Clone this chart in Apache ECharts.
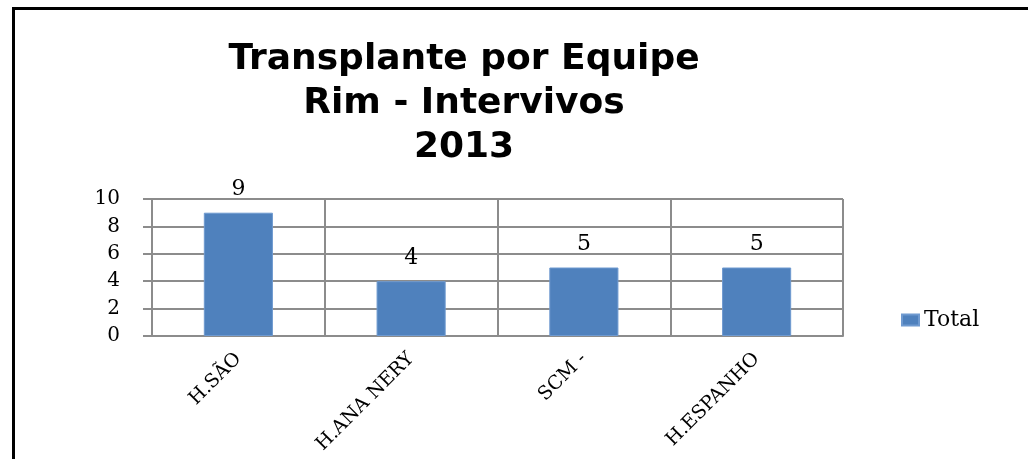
<!DOCTYPE html>
<html>
<head>
<meta charset="utf-8">
<style>
  html, body { margin: 0; padding: 0; background: #fff; }
  #frame {
    position: absolute; left: 12px; top: 7px;
    width: 1100px; height: 600px;
    border: 3px solid #000; pointer-events: none;
  }
  #myChart { position: absolute; left: 0; top: 0; width: 1028px; height: 459px; }
</style>
<script src="https://cdn.jsdelivr.net/npm/echarts@6/dist/echarts.min.js"></script>
</head>
<body>
<div id="myChart"></div>
<div id="frame"></div>
<script>
const categories = ['H.SÃO', 'H.ANA NERY', 'SCM -', 'H.ESPANHO']
const totals = [9, 4, 5, 5]
const yTicks = [0, 2, 4, 6, 8, 10]

const serif = '"DejaVu Serif", "Liberation Serif", serif'
const grey = '#8c8c8c'

let myChart = echarts.init(document.getElementById('myChart'))
myChart.setOption({
  animation: false,
  title: {
    text: 'Transplante por Equipe\nRim - Intervivos\n2013',
    left: 459,
    top: 33,
    textAlign: 'center',
    textStyle: {
      fontFamily: '"DejaVu Sans", sans-serif',
      fontWeight: 'bold',
      fontSize: 36,
      lineHeight: 44,
      color: '#000'
    }
  },
  legend: {
    data: ['Total'],
    left: 896,
    top: 304,
    itemWidth: 17,
    itemHeight: 11,
    itemGap: 5,
    icon: 'rect',
    textStyle: { fontFamily: serif, fontSize: 22, color: '#000' }
  },
  grid: {
    left: 152, right: 185, top: 199, bottom: 123,
    containLabel: false,
    outerBoundsMode: 'none'
  },
  xAxis: {
    type: 'category',
    data: categories,
    axisLine: { lineStyle: { color: grey, width: 2 } },
    axisTick: { length: 7, lineStyle: { color: grey, width: 2 } },
    splitLine: { show: true, lineStyle: { color: grey, width: 2 } },
    axisLabel: {
      rotate: 45,
      margin: 20,
      color: '#000',
      fontFamily: serif,
      fontSize: 19
    }
  },
  yAxis: {
    type: 'value',
    min: 0,
    max: 10,
    interval: 2,
    axisLine: { show: true, lineStyle: { color: grey, width: 2 } },
    axisTick: { show: true, length: 9, lineStyle: { color: grey, width: 2 } },
    splitLine: { lineStyle: { color: grey, width: 2 } },
    axisLabel: {
      margin: 32,
      padding: [4, 0, 0, 0],
      color: '#000',
      fontFamily: serif,
      fontSize: 20,
      formatter: v => yTicks.includes(v) ? String(v) : ''
    }
  },
  series: [{
    name: 'Total',
    type: 'bar',
    data: totals,
    barWidth: '40%',
    itemStyle: { color: '#4f81bd', borderColor: '#6f9ad0', borderWidth: 1 },
    label: {
      show: true,
      position: 'top',
      distance: 12,
      color: '#000',
      fontFamily: serif,
      fontSize: 22
    }
  }]
})
</script>
</body>
</html>
